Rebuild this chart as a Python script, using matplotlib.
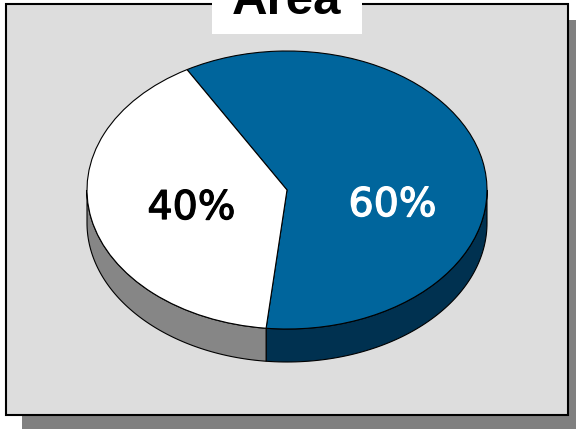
import matplotlib
matplotlib.use('Agg')
import matplotlib.pyplot as plt
import matplotlib.patheffects as pe
from matplotlib.patches import Rectangle
import numpy as np

labels = ['60%', '40%']
shares = [60, 40]
colors = ['#00659c', '#ffffff']
side_colors = ['#003150', '#868686']
text_colors = ['white', 'black']
title = 'Area'

W, H = 576, 429
fig = plt.figure(figsize=(W / 100, H / 100), dpi=100, facecolor='white')

# page in pixel coordinates
bg = fig.add_axes([0, 0, 1, 1])
bg.set_xlim(0, W)
bg.set_ylim(H, 0)
bg.axis('off')
bg.add_patch(Rectangle((22, 20), 560, 420, fc='#808080', ec='none'))
bg.add_patch(Rectangle((6, 4), 562, 411, fc='#dddddd', ec='black', lw=1.5))
bg.add_patch(Rectangle((212, -2), 150, 36, fc='white', ec='none'))
bg.text(287, 14, title, ha='center', va='baseline', fontsize=35.5,
        fontweight='bold', family='Liberation Sans', color='black')

# pie squashed to an ellipse
cx, cy, rx, ry, depth = 287, 190, 200, 139, 33
ax = fig.add_axes([(cx - rx) / W, 1 - (cy + ry) / H, 2 * rx / W, 2 * ry / H])
start = 264
d = depth / ry

# side wall, only the front part of the rim shows
angle = start
for share, col in zip(shares, side_colors):
    end = angle + share * 3.6
    for lo, hi in [(180, 360), (540, 720)]:
        a0, a1 = max(angle, lo), min(end, hi)
        if a1 > a0:
            t = np.radians(np.linspace(a0, a1, 80))
            xs = np.cos(t)
            ys = np.sin(t)
            ax.fill(np.r_[xs, xs[::-1]], np.r_[ys, ys[::-1] - d],
                    fc=col, ec='black', lw=0.8, clip_on=False, zorder=1)
    angle = end

wedges, _ = ax.pie(shares, colors=colors, startangle=start, radius=1,
                   wedgeprops={'edgecolor': 'black', 'linewidth': 0.8, 'zorder': 2})
for w in wedges:
    w.set_clip_on(False)
ax.set_aspect('auto')
ax.set_xlim(-1, 1)
ax.set_ylim(-1, 1)

bg.set_zorder(0)
ax.set_zorder(1)
ax.patch.set_visible(False)

# labels on top of the pie, regular face thickened to a semi-bold look
for lab, col, px, py in zip(labels, text_colors, [392.5, 191.5], [205, 208]):
    ax.text((px - cx) / rx, (cy - py) / ry, lab, ha='center', va='center',
            fontsize=28.5, color=col, family='DejaVu Sans', zorder=3,
            path_effects=[pe.withStroke(linewidth=0.9, foreground=col)])

fig.savefig('out.png', dpi=100, facecolor='white')
